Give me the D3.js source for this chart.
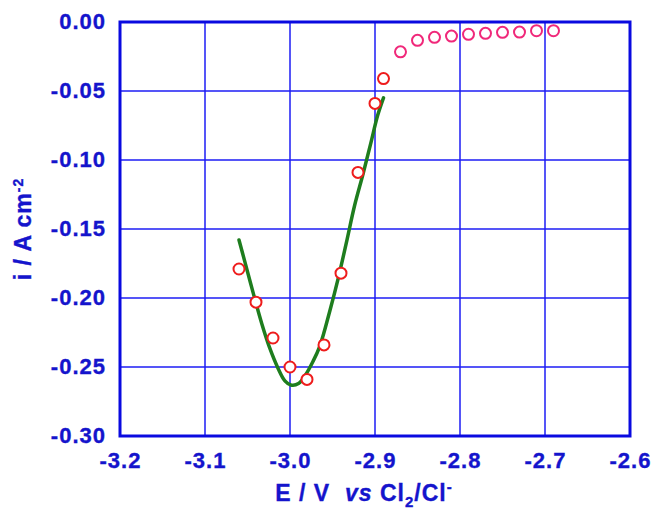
<!DOCTYPE html>
<html>
<head>
<meta charset="utf-8">
<script src="https://cdn.jsdelivr.net/npm/d3@7"></script>
<style>
  body { margin: 0; background: #fff; }
  text { font-family: "Liberation Sans", Arial, sans-serif; font-weight: bold; fill: #1414cc; stroke: #1414cc; stroke-width: 0.35px; }
</style>
</head>
<body>
<div id="chart"></div>
<script>
// measured points near the minimum (red)
var redE = [-3.06, -3.04, -3.02, -3.00, -2.98, -2.96, -2.94, -2.92, -2.90, -2.89];
var redI = [-0.179, -0.203, -0.229, -0.250, -0.259, -0.234, -0.182, -0.109, -0.059, -0.041];

// points on the plateau (magenta)
var pinkE = [-2.87, -2.85, -2.83, -2.81, -2.79, -2.77, -2.75, -2.73, -2.71, -2.69];
var pinkI = [-0.0216, -0.0133, -0.0111, -0.0102, -0.0089, -0.0082, -0.0075, -0.0073, -0.0063, -0.0063];

// fitted curve (green)
var fitE = [-3.060, -3.053, -3.043, -3.033, -3.024, -3.014, -3.006, -2.999, -2.990, -2.982,
            -2.973, -2.965, -2.953, -2.943, -2.933, -2.924, -2.914, -2.905, -2.897, -2.890];
var fitI = [-0.158, -0.174, -0.197, -0.219, -0.236, -0.251, -0.260, -0.263, -0.262, -0.256,
            -0.246, -0.235, -0.209, -0.185, -0.158, -0.133, -0.110, -0.088, -0.068, -0.055];

var xTicks = [-3.2, -3.1, -3.0, -2.9, -2.8, -2.7, -2.6];
var yTicks = [0, -0.05, -0.10, -0.15, -0.20, -0.25, -0.30];

var W = 656, H = 509;
var margin = {top: 22, right: 26, bottom: 73, left: 120};
var width = W - margin.left - margin.right,
    height = H - margin.top - margin.bottom;

var x = d3.scaleLinear().domain([-3.2, -2.6]).range([0, width]);
var y = d3.scaleLinear().domain([-0.30, 0]).range([height, 0]);

var svg = d3.select("#chart").append("svg")
    .attr("width", W)
    .attr("height", H);
var g = svg.append("g")
    .attr("transform", "translate(" + margin.left + "," + margin.top + ")");

var lineBlue = "#1c1cf4";

// grid
g.selectAll(".vgrid")
    .data(xTicks.slice(1, -1))
    .enter().append("line")
    .attr("x1", function (d) { return x(d); })
    .attr("x2", function (d) { return x(d); })
    .attr("y1", 0).attr("y2", height)
    .attr("stroke", lineBlue).attr("stroke-width", 1.5);

g.selectAll(".hgrid")
    .data(yTicks.slice(1, -1))
    .enter().append("line")
    .attr("x1", 0).attr("x2", width)
    .attr("y1", function (d) { return y(d); })
    .attr("y2", function (d) { return y(d); })
    .attr("stroke", lineBlue).attr("stroke-width", 1.5);

// frame
g.append("rect")
    .attr("width", width).attr("height", height)
    .attr("fill", "none")
    .attr("stroke", "#0a0ae0").attr("stroke-width", 3);

// axes via d3 (tick marks hidden, only labels)
var xAxis = g.append("g")
    .attr("transform", "translate(0," + height + ")")
    .call(d3.axisBottom(x).tickValues(xTicks).tickFormat(d3.format(".1f")).tickSize(0).tickPadding(12));
var yAxis = g.append("g")
    .call(d3.axisLeft(y).tickValues(yTicks).tickFormat(d3.format(".2f")).tickSize(0).tickPadding(14));

[xAxis, yAxis].forEach(function (ax) {
    ax.select(".domain").remove();
    ax.selectAll("text")
        .attr("fill", null)
        .style("font-size", "22px")
        .style("letter-spacing", "1px")
        .style("font-family", "'Liberation Sans', Arial, sans-serif")
        .style("font-weight", "bold");
});
xAxis.selectAll("text").attr("dy", "0.9em");
yAxis.selectAll("text").attr("dy", "0.28em");
d3.selectAll("text").text(function () {
    return d3.select(this).text().replace("\u2212", "-");
});

// fitted curve
var fit = fitE.map(function (e, i) { return [e, fitI[i]]; });
g.append("path")
    .datum(fit)
    .attr("fill", "none")
    .attr("stroke", "#1e7d1e")
    .attr("stroke-width", 3.5)
    .attr("stroke-linecap", "round")
    .attr("d", d3.line()
        .x(function (d) { return x(d[0]); })
        .y(function (d) { return y(d[1]); })
        .curve(d3.curveCatmullRom));

// points
var red = redE.map(function (e, i) { return [e, redI[i]]; });
var pink = pinkE.map(function (e, i) { return [e, pinkI[i]]; });

g.selectAll(".red")
    .data(red)
    .enter().append("circle")
    .attr("cx", function (d) { return x(d[0]); })
    .attr("cy", function (d) { return y(d[1]); })
    .attr("r", 5.5)
    .attr("fill", "#fff")
    .attr("stroke", "#ee1c1c")
    .attr("stroke-width", 2);

g.selectAll(".pink")
    .data(pink)
    .enter().append("circle")
    .attr("cx", function (d) { return x(d[0]); })
    .attr("cy", function (d) { return y(d[1]); })
    .attr("r", 5.5)
    .attr("fill", "#fff")
    .attr("stroke", "#f0287a")
    .attr("stroke-width", 2);

// axis titles
var xt = svg.append("text")
    .attr("x", 364).attr("y", 501)
    .attr("text-anchor", "middle")
    .style("font-size", "23px")
    .style("letter-spacing", "1px");
xt.append("tspan").text("E / V\u00a0\u00a0");
xt.append("tspan").style("font-style", "italic").text("vs");
xt.append("tspan").text(" Cl");
xt.append("tspan").attr("dy", 6).style("font-size", "15px").text("2");
xt.append("tspan").attr("dy", -6).text("/Cl");
xt.append("tspan").attr("dy", -9).style("font-size", "15px").text("-");

var yt = svg.append("text")
    .attr("transform", "translate(31,229) rotate(-90)")
    .attr("text-anchor", "middle")
    .style("font-size", "23px")
    .style("letter-spacing", "1px");
yt.append("tspan").text("i / A cm");
yt.append("tspan").attr("dy", -8).style("font-size", "14px").text("-2");
</script>
</body>
</html>
